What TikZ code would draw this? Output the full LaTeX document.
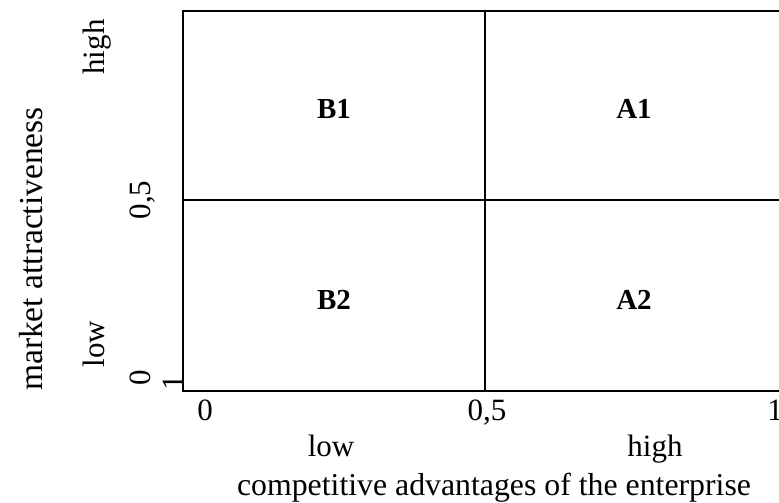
\documentclass[tikz,border=0pt]{standalone}
\usepackage{fontspec}
\setmainfont{Liberation Serif}
\begin{document}
\begin{tikzpicture}[x=1pt,y=-1pt,
  lbl/.style={inner sep=0pt,anchor=base,font=\fontsize{31}{31}\selectfont},
  vlbl/.style={lbl,rotate=90},
  ttl/.style={inner sep=0pt,anchor=base,font=\fontsize{31.8}{32}\selectfont},
  cell/.style={inner sep=0pt,font=\fontsize{29}{29}\selectfont\bfseries},
  gridline/.style={line width=1.6pt}]
\useasboundingbox (0,0) rectangle (779,503);
% frame
\coordinate (tl) at (183,11);
\coordinate (bl) at (183,391);
\coordinate (tr) at (779,11);
\coordinate (br) at (779,391);
\coordinate (mt) at (485,11);
\coordinate (mb) at (485,391);
\coordinate (ml) at (183,200);
\coordinate (mr) at (779,200);
\draw[gridline] (tr) -- (tl) -- (bl) -- (br);
\draw[gridline] (mt) -- (mb);
\draw[gridline] (ml) -- (mr);
% cells
\node[cell] (b1) at (334,109) {B1};
\node[cell] (a1) at (634,109) {A1};
\node[cell] (b2) at (334,300) {B2};
\node[cell] (a2) at (634,300) {A2};
% bottom axis
\node[lbl] (x0) at (205,420) {0};
\node[lbl] (x05) at (487,420) {0,5};
\node[lbl] (x1) at (775,420) {1};
\node[lbl] (xlow) at (331,456) {low};
\node[lbl] (xhigh) at (655,456) {high};
\node[ttl] (xtitle) at (494,495) {competitive advantages of the enterprise};
% left axis
\node[vlbl] (y0) at (150,378) {0};
\node[vlbl] (y1) at (183,383) {1};
\node[vlbl] (y05) at (150,200) {0,5};
\node[vlbl] (ylow) at (104,344) {low};
\node[vlbl] (yhigh) at (104,47) {high};
\node[vlbl,font=\fontsize{33.5}{34}\selectfont] (ytitle) at (42,249) {market attractiveness};
\end{tikzpicture}
\end{document}
